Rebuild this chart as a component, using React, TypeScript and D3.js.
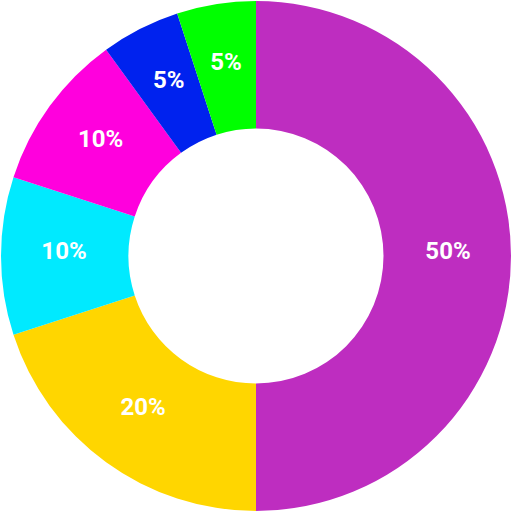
import React from 'react';
import * as d3 from 'd3';

const labels = ['A', 'B', 'C', 'D', 'E', 'F'];
const values = [50, 20, 10, 10, 5, 5];
const colors = ['#be2dc0', '#ffd600', '#00eaff', '#ff00dd', '#0022ee', '#00ff00'];

const W = 512;
const H = 512;

const App = () => {
    const outer = 255;
    const inner = 127.5;
    const labelR = 192;

    const pie = d3.pie<number>().sort(null).value(d => d);
    const arcs = pie(values);
    const arc = d3.arc<d3.PieArcDatum<number>>().innerRadius(inner).outerRadius(outer);
    const labelArc = d3.arc<d3.PieArcDatum<number>>().innerRadius(labelR).outerRadius(labelR);
    const total = d3.sum(values);

    return (
        <svg width={W} height={H} style={{ position: 'absolute', left: 0, top: 0 }}>
            <g transform={`translate(${W / 2}, ${H / 2})`}>
                {arcs.map((a, i) => (
                    <path key={labels[i]} d={arc(a) || ''} fill={colors[i]} />
                ))}
                {arcs.map((a, i) => {
                    const [x, y] = labelArc.centroid(a);
                    return (
                        <text
                            key={'t' + labels[i]}
                            x={x}
                            y={y - 5}
                            dy="0.35em"
                            textAnchor="middle"
                            fill="#fff"
                            style={{ fontFamily: 'Roboto', fontWeight: 700, fontSize: 24 }}
                        >
                            {Math.round((values[i] / total) * 100) + '%'}
                        </text>
                    );
                })}
            </g>
        </svg>
    );
};

export default App;
